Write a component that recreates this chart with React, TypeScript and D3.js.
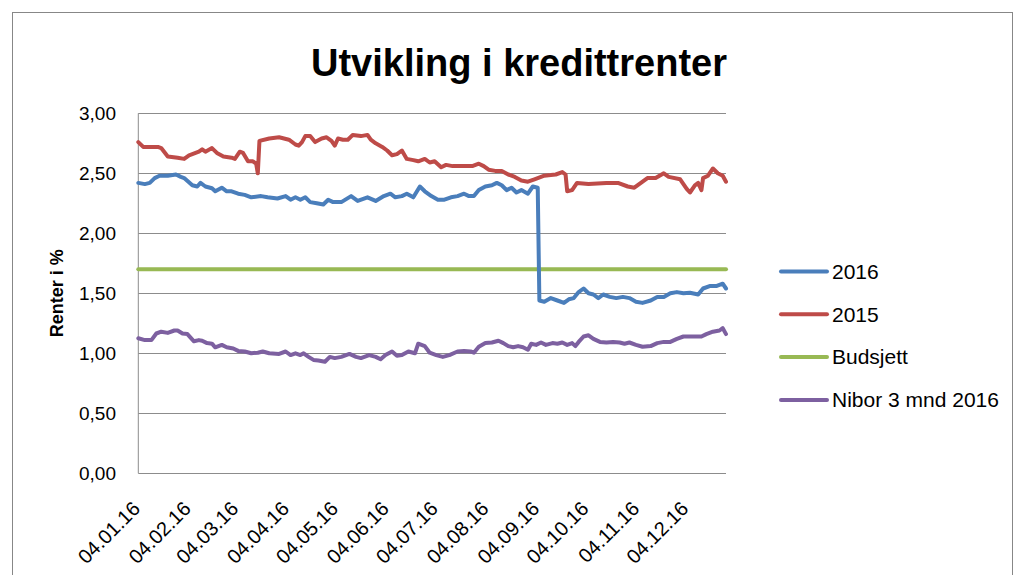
import * as d3 from 'd3';

const xTickLabels = ['04.01.16', '04.02.16', '04.03.16', '04.04.16', '04.05.16', '04.06.16',
  '04.07.16', '04.08.16', '04.09.16', '04.10.16', '04.11.16', '04.12.16'];
const yTicks = [0, 0.5, 1, 1.5, 2, 2.5, 3];
const seriesNames = ['2016', '2015', 'Budsjett', 'Nibor 3 mnd 2016'];
const seriesColors = ['#4a7ebb', '#be4b48', '#98b954', '#7d60a0'];
const budsjett = 1.7;

const serie2016: [string, number][] = [
  ['2016-01-04', 2.42], ['2016-01-08', 2.41], ['2016-01-11', 2.42], ['2016-01-14', 2.46], ['2016-01-17', 2.48],
  ['2016-01-22', 2.48], ['2016-01-27', 2.49], ['2016-01-30', 2.47], ['2016-02-01', 2.46], ['2016-02-06', 2.40],
  ['2016-02-09', 2.39], ['2016-02-11', 2.42], ['2016-02-14', 2.39], ['2016-02-18', 2.375], ['2016-02-20', 2.35],
  ['2016-02-24', 2.38], ['2016-02-27', 2.35], ['2016-03-01', 2.35], ['2016-03-05', 2.33], ['2016-03-09', 2.32],
  ['2016-03-13', 2.30], ['2016-03-19', 2.31], ['2016-03-23', 2.30], ['2016-03-29', 2.29], ['2016-04-03', 2.31],
  ['2016-04-06', 2.28], ['2016-04-09', 2.30], ['2016-04-12', 2.28], ['2016-04-15', 2.30], ['2016-04-18', 2.26],
  ['2016-04-22', 2.25], ['2016-04-26', 2.24], ['2016-04-29', 2.28], ['2016-05-02', 2.26], ['2016-05-07', 2.26],
  ['2016-05-13', 2.31], ['2016-05-17', 2.27], ['2016-05-23', 2.30], ['2016-05-28', 2.27], ['2016-06-02', 2.31],
  ['2016-06-06', 2.33], ['2016-06-09', 2.30], ['2016-06-13', 2.31], ['2016-06-16', 2.33], ['2016-06-20', 2.30],
  ['2016-06-24', 2.39], ['2016-06-27', 2.35], ['2016-07-01', 2.31], ['2016-07-05', 2.28], ['2016-07-09', 2.28],
  ['2016-07-13', 2.30], ['2016-07-17', 2.31], ['2016-07-21', 2.33], ['2016-07-24', 2.31], ['2016-07-27', 2.31],
  ['2016-07-30', 2.36], ['2016-08-03', 2.39], ['2016-08-07', 2.40], ['2016-08-10', 2.42], ['2016-08-13', 2.40],
  ['2016-08-16', 2.36], ['2016-08-19', 2.38], ['2016-08-22', 2.34], ['2016-08-25', 2.36], ['2016-08-29', 2.33],
  ['2016-09-01', 2.39], ['2016-09-04', 2.38], ['2016-09-05', 1.44], ['2016-09-08', 1.43], ['2016-09-12', 1.46],
  ['2016-09-16', 1.44], ['2016-09-20', 1.42], ['2016-09-23', 1.45], ['2016-09-26', 1.46], ['2016-09-29', 1.51],
  ['2016-10-02', 1.54], ['2016-10-05', 1.50], ['2016-10-08', 1.49], ['2016-10-11', 1.46], ['2016-10-14', 1.49],
  ['2016-10-18', 1.47], ['2016-10-22', 1.46], ['2016-10-26', 1.47], ['2016-10-30', 1.46], ['2016-11-03', 1.43],
  ['2016-11-07', 1.42], ['2016-11-12', 1.44], ['2016-11-16', 1.47], ['2016-11-20', 1.47], ['2016-11-24', 1.50],
  ['2016-11-28', 1.51], ['2016-12-02', 1.50], ['2016-12-06', 1.505], ['2016-12-11', 1.49], ['2016-12-14', 1.54],
  ['2016-12-18', 1.56], ['2016-12-22', 1.56], ['2016-12-26', 1.58], ['2016-12-28', 1.54],
];

const serie2015: [string, number][] = [
  ['2016-01-04', 2.76], ['2016-01-07', 2.72], ['2016-01-16', 2.72], ['2016-01-18', 2.71], ['2016-01-22', 2.64],
  ['2016-01-28', 2.63], ['2016-02-01', 2.62], ['2016-02-04', 2.65], ['2016-02-10', 2.68], ['2016-02-12', 2.70],
  ['2016-02-14', 2.68], ['2016-02-18', 2.71], ['2016-02-21', 2.67], ['2016-02-25', 2.64], ['2016-03-01', 2.63],
  ['2016-03-03', 2.62], ['2016-03-06', 2.68], ['2016-03-08', 2.67], ['2016-03-11', 2.60], ['2016-03-14', 2.60],
  ['2016-03-16', 2.58], ['2016-03-17', 2.50], ['2016-03-18', 2.77], ['2016-03-24', 2.79], ['2016-03-30', 2.80],
  ['2016-04-05', 2.78], ['2016-04-09', 2.74], ['2016-04-11', 2.73], ['2016-04-13', 2.76], ['2016-04-15', 2.81],
  ['2016-04-18', 2.81], ['2016-04-21', 2.76], ['2016-04-25', 2.79], ['2016-04-28', 2.80], ['2016-05-01', 2.77],
  ['2016-05-03', 2.73], ['2016-05-05', 2.79], ['2016-05-08', 2.78], ['2016-05-11', 2.78], ['2016-05-14', 2.82],
  ['2016-05-19', 2.81], ['2016-05-23', 2.82], ['2016-05-25', 2.78], ['2016-05-28', 2.75], ['2016-06-01', 2.72],
  ['2016-06-04', 2.69], ['2016-06-07', 2.65], ['2016-06-10', 2.66], ['2016-06-13', 2.69], ['2016-06-16', 2.62],
  ['2016-06-20', 2.61], ['2016-06-23', 2.60], ['2016-06-27', 2.62], ['2016-06-30', 2.59], ['2016-07-03', 2.60],
  ['2016-07-07', 2.55], ['2016-07-10', 2.57], ['2016-07-14', 2.56], ['2016-07-26', 2.56], ['2016-07-30', 2.58],
  ['2016-08-02', 2.56], ['2016-08-05', 2.53], ['2016-08-09', 2.52], ['2016-08-13', 2.52], ['2016-08-17', 2.49],
  ['2016-08-21', 2.47], ['2016-08-25', 2.44], ['2016-08-29', 2.43], ['2016-09-02', 2.45], ['2016-09-08', 2.48],
  ['2016-09-12', 2.485], ['2016-09-15', 2.49], ['2016-09-19', 2.51], ['2016-09-21', 2.49], ['2016-09-22', 2.35],
  ['2016-09-25', 2.36], ['2016-09-28', 2.42], ['2016-10-05', 2.41], ['2016-10-16', 2.42], ['2016-10-23', 2.42],
  ['2016-10-29', 2.39], ['2016-11-02', 2.38], ['2016-11-06', 2.42], ['2016-11-10', 2.46], ['2016-11-15', 2.46],
  ['2016-11-20', 2.50], ['2016-11-23', 2.47], ['2016-11-30', 2.45], ['2016-12-04', 2.37], ['2016-12-06', 2.34],
  ['2016-12-09', 2.40], ['2016-12-11', 2.42], ['2016-12-13', 2.36], ['2016-12-14', 2.46], ['2016-12-17', 2.48],
  ['2016-12-20', 2.54], ['2016-12-23', 2.50], ['2016-12-26', 2.48], ['2016-12-28', 2.43],
];

const serieNibor: [string, number][] = [
  ['2016-01-04', 1.125], ['2016-01-08', 1.11], ['2016-01-12', 1.11], ['2016-01-15', 1.165], ['2016-01-18', 1.18],
  ['2016-01-22', 1.17], ['2016-01-26', 1.19], ['2016-01-28', 1.19], ['2016-01-31', 1.165], ['2016-02-03', 1.16],
  ['2016-02-07', 1.10], ['2016-02-10', 1.11], ['2016-02-12', 1.105], ['2016-02-15', 1.085], ['2016-02-18', 1.08],
  ['2016-02-20', 1.05], ['2016-02-24', 1.07], ['2016-02-27', 1.05], ['2016-03-02', 1.04], ['2016-03-05', 1.02],
  ['2016-03-09', 1.015], ['2016-03-13', 1.00], ['2016-03-17', 1.005], ['2016-03-20', 1.015], ['2016-03-24', 1.00],
  ['2016-03-30', 0.995], ['2016-04-03', 1.015], ['2016-04-06', 0.985], ['2016-04-09', 1.00], ['2016-04-12', 0.985],
  ['2016-04-14', 1.00], ['2016-04-17', 0.97], ['2016-04-20', 0.945], ['2016-04-23', 0.94], ['2016-04-27', 0.93],
  ['2016-04-30', 0.97], ['2016-05-03', 0.96], ['2016-05-07', 0.97], ['2016-05-12', 0.995], ['2016-05-16', 0.97],
  ['2016-05-19', 0.96], ['2016-05-24', 0.985], ['2016-05-28', 0.97], ['2016-05-31', 0.95], ['2016-06-03', 0.985],
  ['2016-06-07', 1.015], ['2016-06-10', 0.98], ['2016-06-13', 0.985], ['2016-06-17', 1.015], ['2016-06-21', 1.00],
  ['2016-06-23', 1.08], ['2016-06-27', 1.06], ['2016-06-30', 1.005], ['2016-07-04', 0.985], ['2016-07-08', 0.97],
  ['2016-07-12', 0.985], ['2016-07-17', 1.015], ['2016-07-21', 1.02], ['2016-07-25', 1.015], ['2016-07-27', 1.005],
  ['2016-07-30', 1.055], ['2016-08-03', 1.085], ['2016-08-07', 1.09], ['2016-08-11', 1.105], ['2016-08-14', 1.085],
  ['2016-08-17', 1.06], ['2016-08-20', 1.05], ['2016-08-23', 1.06], ['2016-08-26', 1.05], ['2016-08-29', 1.03],
  ['2016-08-31', 1.08], ['2016-09-03', 1.07], ['2016-09-06', 1.09], ['2016-09-09', 1.07], ['2016-09-13', 1.085],
  ['2016-09-16', 1.08], ['2016-09-19', 1.09], ['2016-09-22', 1.07], ['2016-09-25', 1.085], ['2016-09-27', 1.06],
  ['2016-09-29', 1.095], ['2016-10-02', 1.14], ['2016-10-05', 1.15], ['2016-10-08', 1.12], ['2016-10-12', 1.095],
  ['2016-10-16', 1.09], ['2016-10-20', 1.095], ['2016-10-24', 1.09], ['2016-10-27', 1.08], ['2016-10-30', 1.09],
  ['2016-11-03', 1.07], ['2016-11-07', 1.055], ['2016-11-12', 1.06], ['2016-11-16', 1.085], ['2016-11-20', 1.095],
  ['2016-11-24', 1.095], ['2016-11-28', 1.12], ['2016-12-02', 1.14], ['2016-12-06', 1.14], ['2016-12-09', 1.14],
  ['2016-12-13', 1.14], ['2016-12-16', 1.16], ['2016-12-20', 1.18], ['2016-12-24', 1.19], ['2016-12-26', 1.21],
  ['2016-12-28', 1.16],
];

const parseIso = d3.timeParse('%Y-%m-%d');
const parseTick = d3.timeParse('%d.%m.%y');
const fmt = d3.formatLocale({ decimal: ',', thousands: ' ', grouping: [3], currency: ['', ' kr'] }).format('.2f');

const font = '"Liberation Sans", Arial, sans-serif';

const App = () => {
  const width = 1015;
  const height = 575;
  const plot = { left: 138.3, right: 726, top: 113.3, bottom: 473.3 };

  const first = parseIso(serie2016[0][0]) as Date;
  const last = parseIso(serie2016[serie2016.length - 1][0]) as Date;

  const x = d3.scaleTime().domain([first, last]).range([plot.left, plot.right]);
  const y = d3.scaleLinear().domain([0, 3]).range([plot.bottom, plot.top]);

  const line = d3.line<[string, number]>()
    .x(d => x(parseIso(d[0]) as Date))
    .y(d => y(d[1]))
    .curve(d3.curveLinear);

  // budsjett is flat over the whole period
  const budsjettSerie: [string, number][] = [
    [serie2016[0][0], budsjett],
    [serie2016[serie2016.length - 1][0], budsjett],
  ];
  const series = [serie2016, serie2015, budsjettSerie, serieNibor];
  const drawOrder = [2, 1, 0, 3];

  return (
    <div style={{ position: 'absolute', left: 0, top: 0 }}>
      <svg width={width} height={height} style={{ display: 'block', background: '#fff' }}>
        <rect x={12.5} y={12.5} width={1000} height={600} fill="#fff" stroke="#878787" />

        <text x={519} y={76} textAnchor="middle" fontFamily={font} fontWeight="bold" fontSize={38} fill="#000">
          Utvikling i kredittrenter
        </text>

        {yTicks.map(t => (
          <line key={t} x1={plot.left} x2={plot.right} y1={Math.round(y(t)) + 0.5} y2={Math.round(y(t)) + 0.5}
            stroke="#8c8c8c" strokeWidth={1} />
        ))}
        <line x1={plot.left} x2={plot.left} y1={plot.top} y2={plot.bottom} stroke="#8c8c8c" strokeWidth={1} />

        {yTicks.map(t => (
          <text key={t} x={116} y={y(t)} dy="0.35em" textAnchor="end" fontFamily={font} fontSize={19} fill="#000">
            {fmt(t)}
          </text>
        ))}

        <text transform={`translate(63,${(plot.top + plot.bottom) / 2}) rotate(-90)`} textAnchor="middle"
          fontFamily={font} fontWeight="bold" fontSize={18} fill="#000">
          Renter i %
        </text>

        {xTickLabels.map(l => {
          const px = x(parseTick(l) as Date);
          return (
            <text key={l} transform={`translate(${px + 3},${510}) rotate(-45)`} textAnchor="end"
              fontFamily={font} fontSize={20} fill="#000">
              {l}
            </text>
          );
        })}

        {drawOrder.map(i => (
          <path key={seriesNames[i]} d={line(series[i]) || ''} fill="none" stroke={seriesColors[i]}
            strokeWidth={4} strokeLinejoin="round" strokeLinecap="round" />
        ))}

        {seriesNames.map((n, i) => {
          const ly = 271.5 + i * 42.8;
          return (
            <g key={n}>
              <line x1={781} x2={827} y1={ly} y2={ly} stroke={seriesColors[i]} strokeWidth={4} strokeLinecap="round" />
              <text x={832} y={ly} dy="0.35em" fontFamily={font} fontSize={21} fill="#000">{n}</text>
            </g>
          );
        })}
      </svg>
    </div>
  );
};

export default App;
